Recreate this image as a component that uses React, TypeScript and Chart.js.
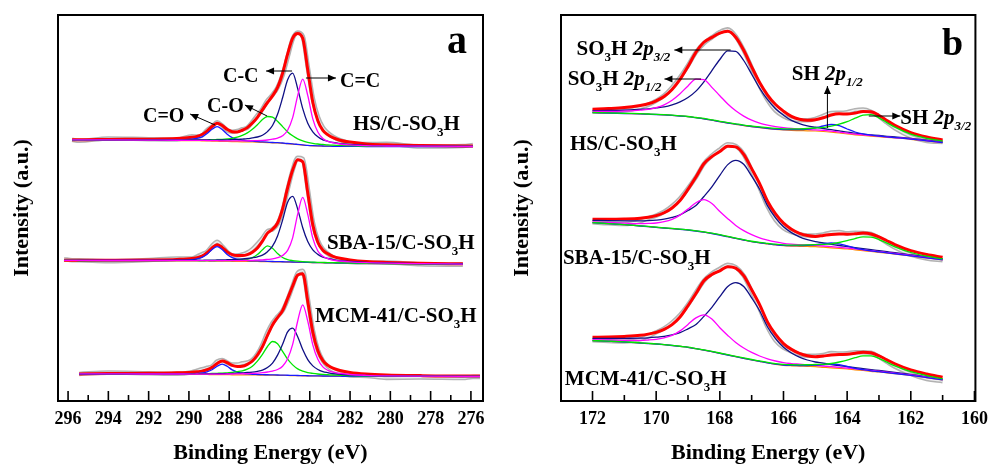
import React, { useEffect, useRef } from "react";
import { Chart, registerables } from "chart.js";

Chart.register(...registerables);

const FONT = '"Liberation Serif", "Times New Roman", Times, serif';

// ================= Panel a : C 1s =================
const energyA = [296.2, 295.8, 295.45, 294, 292, 290.6, 289.85, 289.6, 289.35, 289.1, 288.85, 288.6, 288.35, 288.1, 287.85, 287.6, 287.35, 287.1, 286.85, 286.6, 286.35, 286.1, 285.85, 285.6, 285.35, 285.1, 284.85, 284.6, 284.35, 284.1, 283.85, 283.6, 283.35, 283.1, 282.85, 282.5, 282.0, 281.2, 280.2, 278.5, 276.4, 275.9, 275.55];
const ticksA = [296, 294, 292, 290, 288, 286, 284, 282, 280, 278, 276];

// HS/C-SO3H
const hsA_base = [null, 261, 261, 260.9, 260.7, 260.5, 260.4, 260.3, 260.2, 260.1, 259.9, 259.8, 259.6, 259.5, 259.4, 259.3, 259.2, 259.1, 259.0, 258.8, 258.6, 258.4, 258.2, 258.0, 257.7, 257.3, 256.9, 256.4, 255.9, 255.5, 255.2, 255.0, 254.9, 254.8, 254.7, 254.6, 254.6, 254.5, 254.5, 254.5, 254.5, 254.5, null];
const hsA_CeqO = [0, 0, 0, .1, .2, .6, 1.5, 2.3, 4.0, 7.3, 11.8, 14.5, 11.8, 7.3, 4.0, 2.3, 1.5, 1.0, .8, .6, .5, .4, .3, .3, .3, .2, .2, .2, .2, .1, .1, .1, .1, .1, 0, 0, 0, 0, 0, 0, 0, 0, 0];
const hsA_CO = [0, 0, 0, .2, .35, .6, .8, .9, 1.1, 1.2, 1.4, 1.7, 2.1, 2.6, 3.3, 4.5, 6.4, 9.0, 12.7, 17.5, 22.8, 26.1, 25.7, 21.7, 16.7, 11.8, 8.3, 5.8, 4.2, 3.2, 2.5, 2.0, 1.7, 1.4, 1.2, 1.0, .8, .5, .4, .2, .1, .1, .1];
const hsA_CC = [.1, .1, .1, .2, .35, .5, .7, .75, .8, .95, 1.05, 1.2, 1.4, 1.6, 1.9, 2.2, 2.7, 3.2, 4.1, 5.2, 7.2, 11, 17.3, 28.7, 45.5, 64, 71, 56, 36.5, 22.3, 14, 9.2, 6.3, 4.9, 3.8, 2.8, 2.0, 1.2, .75, .4, .2, .2, .2];
const hsA_CeqC = [.1, .1, .1, .15, .2, .25, .3, .3, .35, .4, .4, .5, .55, .6, .7, .8, .95, 1.1, 1.35, 1.6, 2.0, 2.6, 3.6, 4.9, 7.6, 13.5, 26.5, 49, 66, 50, 27, 14, 7.6, 4.9, 3.6, 2.4, 1.5, .8, .5, .3, .2, .2, .2];
const hsA_resid = [0, 0, -1, 1, 0, -1, 1, 0, -1, 1, 0, 1, 0, -1, 0, 1, 1, 0, 1, 2, 1, 2, 1, 0, -2, -3, -1, 1, 2, 3, 4, 4, 3, 2, 1, 0, -1, 0, 1, -1, 0, 1, 0];

// SBA-15/C-SO3H
const sbaA_base = [140.6, 140.6, 140.5, 140.4, 140.3, 140.2, 140.1, 140.1, 140.0, 140.0, 139.9, 139.9, 139.8, 139.8, 139.7, 139.7, 139.6, 139.6, 139.5, 139.5, 139.4, 139.3, 139.2, 139.1, 139.0, 138.9, 138.8, 138.7, 138.6, 138.5, 138.4, 138.3, 138.2, 138.1, 138.0, 137.9, 137.8, 137.6, 137.4, 137.1, 136.8, null, null];
const sbaA_CeqO = [0, 0, 0, .1, .2, .55, 1.3, 2.1, 3.7, 6.8, 11.6, 14.5, 11.6, 6.8, 3.7, 2.1, 1.3, .9, .7, .55, .45, .35, .3, .3, .25, .25, .2, .2, .2, .2, .1, .1, .1, .1, .1, 0, 0, 0, 0, 0, 0, 0, 0];
const sbaA_CO = [0, 0, 0, 0, .05, .1, .2, .2, .2, .3, .3, .4, .5, .6, .75, 1.0, 1.4, 2.1, 3.8, 6.9, 11.8, 15.9, 13.6, 8.3, 4.5, 2.5, 1.6, 1.1, .8, .6, .5, .4, .35, .3, .3, .25, .2, .1, .1, 0, 0, 0, 0];
const sbaA_CC = [.1, .1, .1, .2, .3, .45, .6, .7, .7, .85, .95, 1.1, 1.3, 1.45, 1.7, 2.0, 2.4, 2.9, 3.7, 4.7, 6.5, 10, 15.7, 26, 41.9, 59.9, 65.9, 53.2, 34.6, 20.9, 12.7, 8.3, 5.7, 4.4, 3.4, 2.5, 1.8, 1.1, .7, .35, .2, .2, .2];
const sbaA_CeqC = [.1, .1, .1, .1, .2, .25, .26, .3, .3, .33, .37, .4, .45, .5, .6, .7, .8, .95, 1.15, 1.4, 1.75, 2.3, 2.9, 4.3, 6.5, 11.7, 24.4, 48.1, 65, 48.1, 24.4, 11.7, 6.5, 4.3, 2.9, 2.1, 1.3, .7, .4, .25, .15, .1, .1];
const sbaA_resid = [1, 0, 0, -1, 0, 1, 0, 1, 2, 1, 2, 3, 1, 0, -1, 0, 1, 2, 3, 4, 3, 2, 0, -1, -2, -2, 0, 2, 3, 4, 3, 2, 1, 0, -1, -2, -2, -1, 0, -1, -1, 0, 0];

// MCM-41/C-SO3H
const mcmA_base = [null, null, 27.0, 26.9, 26.8, 26.7, 26.6, 26.6, 26.5, 26.5, 26.4, 26.4, 26.3, 26.3, 26.2, 26.2, 26.1, 26.1, 26.0, 26.0, 25.9, 25.9, 25.8, 25.7, 25.6, 25.5, 25.4, 25.3, 25.2, 25.1, 25.0, 25.0, 24.9, 24.9, 24.8, 24.8, 24.7, 24.7, 24.6, 24.6, 24.5, 24.5, 24.5];
const mcmA_CeqO = [0, 0, 0, .1, .15, .3, .7, 1.0, 1.5, 2.7, 4.9, 8.4, 10.5, 8.4, 4.9, 2.7, 1.5, 1.0, .7, .5, .4, .35, .3, .3, .25, .25, .2, .2, .15, .15, .1, .1, .1, .1, .1, 0, 0, 0, 0, 0, 0, 0, 0];
const mcmA_CO = [0, 0, 0, .15, .3, .5, .65, .7, .8, .95, 1.1, 1.3, 1.6, 1.9, 2.3, 3.1, 4.1, 5.8, 8.8, 13.9, 20.7, 28.6, 33.7, 31.5, 24.1, 16.3, 10.7, 6.8, 4.7, 3.3, 2.6, 2.0, 1.7, 1.4, 1.2, .95, .7, .5, .35, .2, .1, .1, .1];
const mcmA_CC = [0, 0, 0, .15, .25, .4, .5, .55, .6, .67, .75, .85, .97, 1.1, 1.35, 1.6, 1.9, 2.4, 2.9, 3.7, 5.0, 7.6, 12.1, 20.2, 31.2, 43.7, 47.5, 39, 26.2, 16.3, 10.1, 6.5, 4.5, 3.4, 2.6, 2.0, 1.4, .85, .55, .3, .15, .15, .15];
const mcmA_CeqC = [.1, .1, .1, .15, .2, .3, .35, .4, .45, .45, .5, .55, .65, .7, .8, .95, 1.15, 1.3, 1.6, 1.9, 2.4, 3.1, 4.1, 5.8, 9.2, 16.7, 31.2, 54.7, 71, 54.7, 31.2, 16.7, 9.2, 5.8, 4.1, 2.8, 1.8, 1.0, .6, .3, .2, .2, .2];
const mcmA_resid = [0, 0, 0, 1, 0, -1, 0, 1, 2, 2, 1, 2, 1, 0, 1, 2, 3, 2, 1, 1, 2, 3, 2, 1, 0, -1, 0, 2, 3, 3, 2, 1, 0, -1, -2, -3, -3, -2, -3, -2, -2, -1, -1];

// ================= Panel b : S 2p =================
const energyB = [172, 171.5, 171, 170.5, 170.25, 170, 169.75, 169.5, 169.25, 169, 168.75, 168.5, 168.25, 168, 167.75, 167.5, 167.25, 167, 166.75, 166.5, 166.25, 166, 165.75, 165.5, 165.25, 165, 164.75, 164.5, 164.25, 164, 163.75, 163.5, 163.25, 163, 162.75, 162.5, 162, 161.5, 161];
const ticksB = [172, 170, 168, 166, 164, 162, 160];

const hsB_base = [288.3, 288.0, 287.5, 287.1, 286.8, 286.5, 286.1, 285.6, 285.0, 284.3, 283.3, 282.2, 280.8, 279.3, 278.0, 276.7, 275.4, 274.3, 273.3, 272.4, 271.6, 271.0, 270.6, 270.4, 270.2, 270.0, 269.5, 268.8, 268.0, 267.0, 266.2, 265.5, 264.9, 264.3, 263.6, 263.0, 261.7, 260.0, 258.3];
const hsB_p32 = [2.1, 2.6, 3.4, 4.6, 5.4, 6.7, 8.1, 10.6, 14.1, 19.2, 26.6, 37, 49.6, 62.2, 72.2, 72.9, 65.1, 52.5, 39.6, 28.9, 20.6, 14.8, 10, 7, 5, 3.8, 3.0, 2.5, 2.1, 1.8, 1.6, 1.4, 1.3, 1.2, 1.1, 1.0, .9, .8, .7];
const hsB_p12 = [1.2, 1.6, 2.3, 3.7, 4.8, 6.8, 10.1, 15.2, 22.3, 30.8, 38.6, 39.2, 32.8, 26, 19, 13.5, 9.5, 6.5, 4.6, 3.5, 2.8, 2.3, 1.9, 1.6, 1.4, 1.2, 1.1, 1.0, .9, .8, .7, .65, .6, .55, .5, .45, .4, .35, .3];
const hsB_sh12 = [0, 0, 0, 0, 0, 0, 0, 0, 0, 0, 0, 0, 0, 0, 0, .1, .15, .2, .25, .3, .4, .5, .7, 1.0, 1.8, 3.2, 5.5, 7.7, 7.4, 5.0, 2.8, 1.6, 1.0, .6, .5, .4, .25, .2, .15];
const hsB_sh32 = [.2, .2, .2, .2, .2, .2, .2, .2, .2, .2, .2, .35, .4, .43, .47, .52, .58, .67, .77, .88, 1.03, 1.22, 1.46, 1.8, 2.3, 3.0, 4.1, 6.0, 8.8, 12.3, 16.6, 20.3, 21.4, 18.9, 14.8, 10.8, 5.2, 2.7, 1.6];
const hsB_resid = [-2, -3, -3, -2, -1, 0, 1, 2, 2, 1, 0, -1, 0, 1, 2, 1, 0, -1, -3, -5, -6, -5, -3, -1, 0, 1, 2, 2, 1, 2, 3, 2, 0, -1, -2, -3, -4, -4, -2];

const sbaB_base = [178.3, 177.3, 176.3, 175.0, 174.4, 173.7, 173.0, 172.4, 171.7, 171.0, 170.0, 168.8, 167.5, 166.0, 164.3, 162.6, 160.9, 159.3, 158.1, 157.1, 156.1, 155.3, 154.9, 154.7, 154.5, 154.3, 153.8, 153.2, 152.6, 152.0, 151.2, 150.4, 149.5, 148.7, 147.8, 146.9, 145.0, 143.0, 141.0];
const sbaB_p32 = [2.4, 3.0, 3.9, 5.2, 6.0, 7.2, 8.8, 11.2, 14.5, 19.5, 25.5, 35.7, 46.7, 59.7, 72.1, 78.1, 75.8, 65.5, 53.6, 38, 27, 19, 13.5, 9.5, 6.8, 5.0, 4.4, 3.5, 2.9, 2.5, 2.2, 2.0, 1.8, 1.6, 1.5, 1.4, 1.2, 1.1, 1.0];
const sbaB_p12 = [.9, 1.2, 1.6, 2.4, 3.2, 4.3, 6.3, 9.3, 14.2, 21, 28.3, 32.5, 29.9, 23.5, 18, 13, 9.5, 7, 5, 3.8, 3, 2.4, 2, 1.7, 1.5, 1.3, 1.2, 1.1, 1.0, .9, .85, .8, .75, .7, .65, .6, .55, .5, .45];
const sbaB_sh12 = [0, 0, 0, 0, 0, 0, 0, 0, 0, 0, 0, 0, 0, 0, 0, .05, .1, .1, .15, .2, .25, .3, .45, .6, 1.1, 2.0, 3.4, 4.8, 4.6, 3.1, 1.75, 1.0, .6, .4, .3, .25, .15, .1, .1];
const sbaB_sh32 = [.15, .15, .15, .15, .15, .15, .15, .15, .15, .15, .15, .24, .27, .29, .32, .35, .39, .45, .52, .59, .69, .82, .98, 1.2, 1.55, 2.0, 2.8, 4.0, 5.9, 8.3, 11.2, 13.7, 14.4, 12.7, 10.0, 7.3, 3.5, 1.8, 1.1];
const sbaB_resid = [-3, -4, -5, -3, -1, 0, 1, 2, 2, 1, 0, 0, 1, 2, 2, 1, 0, -2, -4, -5, -6, -5, -3, -1, 0, 1, 1, 2, 2, 1, 1, 0, 0, -1, -2, -3, -4, -4, -3];

const mcmB_base = [60.3, 59.7, 59.0, 58.0, 57.5, 57.0, 56.3, 55.5, 54.6, 53.7, 52.3, 50.8, 49.3, 47.7, 46.0, 44.3, 42.6, 41.0, 39.5, 38.0, 36.7, 35.7, 35.2, 34.9, 34.6, 34.3, 33.7, 33.1, 32.6, 32.0, 31.2, 30.5, 29.7, 29.0, 28.1, 27.3, 25.5, 23.3, 21.0];
const mcmB_p32 = [2.3, 2.8, 3.7, 4.9, 5.7, 6.8, 8.3, 10.6, 13.7, 18.5, 24.2, 33.8, 44.3, 56.6, 68.4, 74.0, 71.9, 62.1, 50.8, 36.0, 25.6, 18.0, 12.8, 9.0, 6.4, 4.7, 4.2, 3.3, 2.7, 2.4, 2.1, 1.9, 1.7, 1.5, 1.4, 1.3, 1.1, 1.0, .95];
const mcmB_p12 = [1.0, 1.3, 1.7, 2.6, 3.5, 4.7, 6.9, 10.1, 15.5, 22.9, 30.8, 35.4, 32.6, 25.6, 19.6, 14.2, 10.4, 7.6, 5.5, 4.1, 3.3, 2.6, 2.2, 1.9, 1.6, 1.4, 1.3, 1.2, 1.1, 1.0, .9, .85, .8, .75, .7, .65, .6, .55, .5];
const mcmB_sh12 = [0, 0, 0, 0, 0, 0, 0, 0, 0, 0, 0, 0, 0, 0, 0, .05, .05, .1, .1, .15, .2, .25, .35, .5, .9, 1.6, 2.8, 3.9, 3.7, 2.5, 1.4, .8, .5, .3, .25, .2, .1, .1, .1];
const mcmB_sh32 = [.15, .15, .15, .15, .15, .15, .15, .15, .15, .15, .15, .25, .29, .31, .34, .38, .42, .49, .56, .64, .75, .89, 1.06, 1.3, 1.67, 2.2, 3.0, 4.4, 6.4, 8.9, 12.1, 14.7, 15.5, 13.7, 10.7, 7.8, 3.8, 2.0, 1.2];
const mcmB_resid = [-3, -4, -5, -4, -2, 0, 1, 2, 2, 1, 1, 0, 1, 2, 2, 1, 0, -2, -4, -5, -6, -4, -2, -1, 0, 1, 1, 2, 1, 1, 1, 0, 0, -1, -2, -3, -4, -5, -4];

// ================= styling =================
const C_RED = "#ff0000";
const C_NAVY = "#101085";
const C_BLUE = "#1a1aff";
const C_MAGENTA = "#ff00ff";
const C_GREEN = "#00e600";
const C_ORANGE = "#ff8c00";

type Seg = { t: string; sub?: boolean; it?: boolean };
type Note = { x: number; y: number; segs: Seg[]; size: number };
type Arrow = { from: [number, number]; to: [number, number] };

const sampleLabel = (name: string): Seg[] => [{ t: name + "/C-SO" }, { t: "3", sub: true }, { t: "H" }];
const so3h = (frac: string): Seg[] => [{ t: "SO" }, { t: "3", sub: true }, { t: "H " }, { t: "2p", it: true }, { t: frac, sub: true, it: true }];
const sh = (frac: string): Seg[] => [{ t: "SH " }, { t: "2p", it: true }, { t: frac, sub: true, it: true }];

const notesA: Note[] = [
  { x: 292.28, y: 279, segs: [{ t: "C=O" }], size: 20 },
  { x: 289.1, y: 289, segs: [{ t: "C-O" }], size: 20 },
  { x: 288.31, y: 319, segs: [{ t: "C-C" }], size: 20 },
  { x: 282.5, y: 314, segs: [{ t: "C=C" }], size: 20 },
  { x: 281.86, y: 271, segs: sampleLabel("HS"), size: 21 },
  { x: 283.15, y: 152, segs: sampleLabel("SBA-15"), size: 21 },
  { x: 283.74, y: 79, segs: sampleLabel("MCM-41"), size: 21 },
  { x: 277.19, y: 348, segs: [{ t: "a" }], size: 40 },
];
const arrowsA: Arrow[] = [
  { from: [288.7, 276], to: [289.94, 287] },
  { from: [286.12, 285], to: [287.22, 296] },
  { from: [284.88, 330], to: [286.17, 330] },
  { from: [284.19, 323], to: [282.7, 323] },
];
const notesB: Note[] = [
  { x: 172.5, y: 346, segs: so3h("3/2"), size: 21 },
  { x: 172.78, y: 316, segs: so3h("1/2"), size: 21 },
  { x: 165.74, y: 321, segs: sh("1/2"), size: 21 },
  { x: 162.33, y: 277, segs: sh("3/2"), size: 21 },
  { x: 172.71, y: 251, segs: sampleLabel("HS"), size: 21 },
  { x: 172.93, y: 137, segs: sampleLabel("SBA-15"), size: 21 },
  { x: 172.87, y: 16, segs: sampleLabel("MCM-41"), size: 21 },
  { x: 161.02, y: 346, segs: [{ t: "b" }], size: 38 },
];
const arrowsB: Arrow[] = [
  { from: [167.66, 351], to: [169.43, 351] },
  { from: [168.59, 322], to: [169.74, 322] },
  { from: [164.62, 273], to: [164.62, 315] },
  { from: [163.32, 285], to: [162.33, 285] },
];

type Sample = { base: (number | null)[]; comps: number[][]; resid: number[] };

function lineDs(xs: number[], ys: (number | null)[], color: string, width: number, order: number) {
  return {
    data: xs.map((x, i) => ({ x, y: ys[i] })),
    borderColor: color,
    borderWidth: width,
    pointRadius: 0,
    fill: false,
    spanGaps: false,
    cubicInterpolationMode: "monotone" as const,
    order,
  };
}

function buildDatasets(xs: number[], samples: Sample[], colors: string[]) {
  const out: any[] = [];
  samples.forEach((s) => {
    const env = xs.map((_, i) => (s.base[i] == null ? null : (s.base[i] as number) + s.comps.reduce((a, c) => a + c[i], 0)));
    const raw = env.map((v, i) => (v == null ? null : v + s.resid[i]));
    out.push(lineDs(xs, raw, "#b2b2b2", 4.5, 100));
    out.push(lineDs(xs, raw, "#eeeeee", 1.4, 99));
    out.push(lineDs(xs, env, C_RED, 3, 60));
    out.push(lineDs(xs, s.base, C_ORANGE, 1.2, 50));
    s.comps.forEach((c, k) => {
      const ys = xs.map((_, i) => (s.base[i] == null ? null : (s.base[i] as number) + c[i]));
      out.push(lineDs(xs, ys, colors[k], 1.3, 40 - k));
    });
  });
  return out;
}

function drawRich(ctx: CanvasRenderingContext2D, segs: Seg[], x: number, y: number, size: number) {
  let cx = x;
  ctx.textBaseline = "alphabetic";
  ctx.textAlign = "left";
  for (const s of segs) {
    const fs = s.sub ? Math.round(size * 0.64) : size;
    ctx.font = `${s.it ? "italic " : ""}bold ${fs}px ${FONT}`;
    ctx.fillText(s.t, cx, s.sub ? y + size * 0.27 : y);
    cx += ctx.measureText(s.t).width;
  }
}

function makeDecor(notes: Note[], arrows: Arrow[], tickVals: number[]) {
  return {
    id: "decor",
    afterDatasetsDraw(chart: any) {
      const { ctx, chartArea: a, scales } = chart;
      const xs = scales.x;
      const ys = scales.y;
      ctx.save();
      ctx.strokeStyle = "#000";
      ctx.lineWidth = 2;
      ctx.strokeRect(a.left, a.top, a.right - a.left, a.bottom - a.top);
      ctx.lineWidth = 1.6;
      const step = tickVals[0] - tickVals[1];
      const all: { v: number; major: boolean }[] = [];
      tickVals.forEach((v) => {
        all.push({ v, major: true });
        all.push({ v: v - step / 2, major: false });
      });
      all.forEach(({ v, major }) => {
        if (v < Math.min(xs.min, xs.max) || v > Math.max(xs.min, xs.max)) return;
        const px = xs.getPixelForValue(v);
        ctx.beginPath();
        ctx.moveTo(px, a.bottom);
        ctx.lineTo(px, a.bottom - (major ? 10 : 6));
        ctx.stroke();
      });
      ctx.lineWidth = 1;
      ctx.fillStyle = "#000";
      arrows.forEach(({ from, to }) => {
        const x1 = xs.getPixelForValue(from[0]);
        const y1 = ys.getPixelForValue(from[1]);
        const x2 = xs.getPixelForValue(to[0]);
        const y2 = ys.getPixelForValue(to[1]);
        const ang = Math.atan2(y2 - y1, x2 - x1);
        ctx.beginPath();
        ctx.moveTo(x1, y1);
        ctx.lineTo(x2, y2);
        ctx.stroke();
        const L = 8;
        const W = 3.5;
        ctx.beginPath();
        ctx.moveTo(x2, y2);
        ctx.lineTo(x2 - L * Math.cos(ang) + W * Math.sin(ang), y2 - L * Math.sin(ang) - W * Math.cos(ang));
        ctx.lineTo(x2 - L * Math.cos(ang) - W * Math.sin(ang), y2 - L * Math.sin(ang) + W * Math.cos(ang));
        ctx.closePath();
        ctx.fill();
      });
      notes.forEach((n) => {
        drawRich(ctx, n.segs, xs.getPixelForValue(n.x), ys.getPixelForValue(n.y), n.size);
      });
      ctx.restore();
    },
  };
}

function makeConfig(
  datasets: any[],
  xmin: number,
  xmax: number,
  tickVals: number[],
  leftWidth: number,
  rightPad: number,
  decor: any
) {
  const tickFont = { family: FONT, size: 18, weight: "bold" as const, lineHeight: 1 };
  const titleFont = { family: FONT, size: 22, weight: "bold" as const, lineHeight: 1 };
  return {
    type: "line" as const,
    data: { datasets },
    options: {
      animation: false as const,
      responsive: false,
      events: [],
      layout: { padding: { left: 0, right: rightPad, top: 15, bottom: 0 } },
      plugins: { legend: { display: false }, tooltip: { enabled: false } },
      scales: {
        x: {
          type: "linear" as const,
          reverse: true,
          min: xmin,
          max: xmax,
          grid: { display: false, drawTicks: false },
          border: { display: false },
          afterBuildTicks: (scale: any) => {
            scale.ticks = tickVals.map((v) => ({ value: v }));
          },
          ticks: {
            autoSkip: false,
            maxRotation: 0,
            padding: 9,
            color: "#000",
            font: tickFont,
            callback: (v: any) => String(v),
          },
          title: {
            display: true,
            text: "Binding Energy (eV)",
            color: "#000",
            font: titleFont,
            padding: { top: 0, bottom: 0 },
          },
          afterFit: (s: any) => {
            s.height = 63;
          },
        },
        y: {
          type: "linear" as const,
          min: 0,
          max: 386,
          grid: { display: false, drawTicks: false },
          border: { display: false },
          ticks: { display: false },
          title: {
            display: true,
            text: "Intensity (a.u.)",
            color: "#000",
            font: titleFont,
            padding: { top: 11, bottom: 0 },
          },
          afterFit: (s: any) => {
            s.width = leftWidth;
          },
        },
      },
    },
    plugins: [decor],
  };
}

export default function App() {
  const refA = useRef<HTMLCanvasElement | null>(null);
  const refB = useRef<HTMLCanvasElement | null>(null);

  useEffect(() => {
    const samplesA: Sample[] = [
      { base: hsA_base, comps: [hsA_CeqO, hsA_CO, hsA_CC, hsA_CeqC], resid: hsA_resid },
      { base: sbaA_base, comps: [sbaA_CeqO, sbaA_CO, sbaA_CC, sbaA_CeqC], resid: sbaA_resid },
      { base: mcmA_base, comps: [mcmA_CeqO, mcmA_CO, mcmA_CC, mcmA_CeqC], resid: mcmA_resid },
    ];
    const samplesB: Sample[] = [
      { base: hsB_base, comps: [hsB_p32, hsB_p12, hsB_sh12, hsB_sh32], resid: hsB_resid },
      { base: sbaB_base, comps: [sbaB_p32, sbaB_p12, sbaB_sh12, sbaB_sh32], resid: sbaB_resid },
      { base: mcmB_base, comps: [mcmB_p32, mcmB_p12, mcmB_sh12, mcmB_sh32], resid: mcmB_resid },
    ];
    const dsA = buildDatasets(energyA, samplesA, [C_BLUE, C_GREEN, C_NAVY, C_MAGENTA]);
    const dsB = buildDatasets(energyB, samplesB, [C_NAVY, C_MAGENTA, C_BLUE, C_GREEN]);
    const chartA = new Chart(
      refA.current as HTMLCanvasElement,
      makeConfig(dsA, 275.4, 296.5, ticksA, 58, 17, makeDecor(notesA, arrowsA, ticksA)) as any
    );
    const chartB = new Chart(
      refB.current as HTMLCanvasElement,
      makeConfig(dsB, 159.97, 172.99, ticksB, 61, 16, makeDecor(notesB, arrowsB, ticksB)) as any
    );
    return () => {
      chartA.destroy();
      chartB.destroy();
    };
  }, []);

  return (
    <div style={{ position: "absolute", left: 0, top: 0, width: 997, height: 464, background: "#fff", overflow: "hidden" }}>
      <canvas ref={refA} width={500} height={464} style={{ position: "absolute", left: 0, top: 0, width: 500, height: 464 }} />
      <canvas ref={refB} width={497} height={464} style={{ position: "absolute", left: 500, top: 0, width: 497, height: 464 }} />
    </div>
  );
}
